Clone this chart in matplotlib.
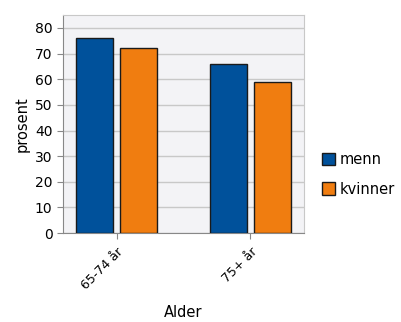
import matplotlib
matplotlib.use("Agg")
import matplotlib.pyplot as plt
import numpy as np

categories = ["65-74 år", "75+ år"]
series_names = ["menn", "kvinner"]
menn = [76, 66]
kvinner = [72, 59]
colors = ["#00519b", "#f07d10"]

fig = plt.figure(figsize=(4.01, 3.22), dpi=100)
ax = fig.add_axes([0.157, 0.276, 0.601, 0.677])
ax.set_facecolor("#f3f3f6")

x = np.arange(len(categories))
width = 0.276
offset = 0.164
for vals, name, color, sign in zip([menn, kvinner], series_names, colors, [-1, 1]):
    ax.bar(x + sign * offset, vals, width, color=color, edgecolor="#1a1a1a",
           linewidth=1.0, label=name, zorder=3)

ax.set_xlim(-0.40, 1.40)
ax.set_ylim(0, 85)
ax.set_yticks(range(0, 81, 10))
ax.yaxis.grid(True, color="#c8c8c8", linewidth=1.0, zorder=0)
ax.set_xticks(x)
ax.set_xticklabels(categories, rotation=45, ha="right", rotation_mode="anchor", fontsize=9)
ax.tick_params(axis="y", labelsize=10, length=4, color="#888888")
ax.tick_params(axis="x", length=4, pad=5, color="#888888")
for side in ["top", "right"]:
    ax.spines[side].set_color("#c8c8c8")
for side in ["left", "bottom"]:
    ax.spines[side].set_color("#888888")

ax.set_ylabel("prosent", fontsize=10.5)
ax.set_xlabel("Alder", fontsize=10.5, labelpad=9)

ax.legend(loc="center left", bbox_to_anchor=(1.02, 0.27), frameon=False,
          fontsize=10.5, handlelength=0.9, handleheight=0.9, handletextpad=0.3,
          labelspacing=1.0)

fig.savefig("out.png", dpi=100)
